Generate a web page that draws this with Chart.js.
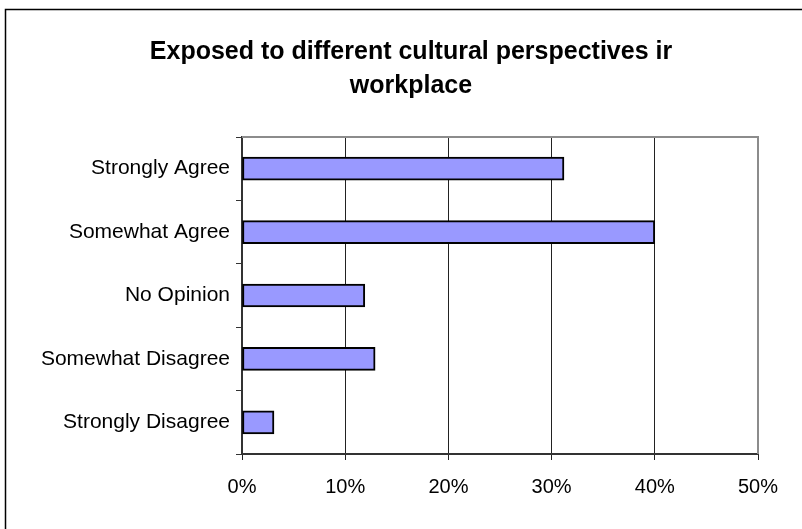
<!DOCTYPE html>
<html>
<head>
<meta charset="utf-8">
<script src="https://cdn.jsdelivr.net/npm/chart.js@4/dist/chart.umd.min.js"></script>
<style>
  html, body { margin: 0; padding: 0; background: #fff; }
  #wrap { width: 802px; height: 529px; }
</style>
</head>
<body>
<div id="wrap"><canvas id="chart" width="802" height="529"></canvas></div>
<script>
const CATEGORIES = ['Strongly Agree', 'Somewhat Agree', 'No Opinion', 'Somewhat Disagree', 'Strongly Disagree'];
const VALUES     = [31.2, 40.0, 11.9, 12.9, 3.1];
const X_TICKS    = [0, 10, 20, 30, 40, 50];
const TITLE      = ['Exposed to different cultural perspectives ir', 'workplace'];

const FONT = "'Liberation Sans', Arial, sans-serif";

// outer frame, title (centred on the whole frame, not the padded box) and grey plot border
const frames = {
    id: 'frames',
    beforeDraw(c) {
        const g = c.ctx;
        g.save();
        g.fillStyle = '#fff';
        g.fillRect(0, 0, c.width, c.height);
        g.strokeStyle = '#000';
        g.lineWidth = 1.5;
        g.strokeRect(5.5, 9.5, 1000, 1000);
        g.fillStyle = '#000';
        g.font = 'bold 25px ' + FONT;
        g.textAlign = 'center';
        g.textBaseline = 'alphabetic';
        TITLE.forEach((t, i) => g.fillText(t, 411, 59 + i * 34));
        g.restore();
    },
    afterDatasetsDraw(c) {
        const { left, right, top, bottom } = c.chartArea;
        const g = c.ctx;
        g.save();
        g.strokeStyle = '#8c8c8c';
        g.lineWidth = 2;
        g.beginPath();
        g.moveTo(left, top);
        g.lineTo(right, top);
        g.lineTo(right, bottom);
        g.stroke();
        g.restore();
    }
};

new Chart(document.getElementById('chart'), {
    type: 'bar',
    data: {
        labels: CATEGORIES,
        datasets: [{
            data: VALUES,
            backgroundColor: '#9999FF',
            borderColor: '#000',
            borderWidth: 2,
            borderSkipped: false,
            barThickness: 23,
        }]
    },
    options: {
        indexAxis: 'y',
        responsive: false,
        animation: false,
        layout: { padding: { left: 0, right: 44, top: 137, bottom: 0 } },
        plugins: {
            legend: { display: false },
            tooltip: { enabled: false },
            title: { display: false }
        },
        scales: {
            x: {
                min: 0, max: 50,
                afterBuildTicks: s => { s.ticks = X_TICKS.map(v => ({ value: v })); },
                afterFit: s => { s.height = 75; },
                ticks: {
                    callback: v => v + '%',
                    color: '#000',
                    font: { family: FONT, size: 20 },
                    padding: 15,
                    maxRotation: 0
                },
                grid: { color: '#222', lineWidth: 1, tickLength: 6 },
                border: { color: '#333', width: 2 }
            },
            y: {
                afterFit: s => { s.width = 242; },
                ticks: {
                    color: '#000',
                    font: { family: FONT, size: 21 },
                    padding: 6
                },
                grid: { offset: true, drawOnChartArea: false, color: '#333', tickLength: 6 },
                border: { color: '#333', width: 2 }
            }
        }
    },
    plugins: [frames]
});
</script>
</body>
</html>
